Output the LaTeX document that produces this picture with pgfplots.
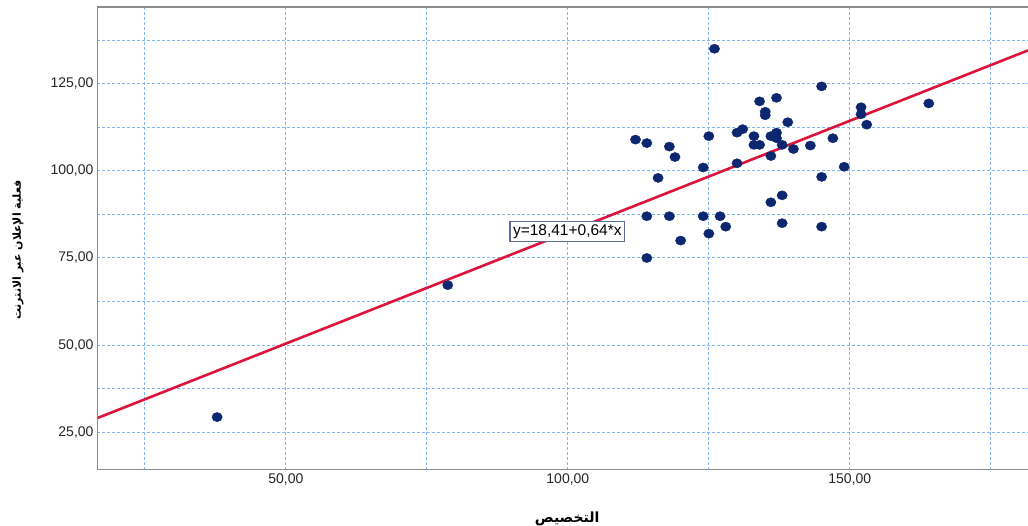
\documentclass[border=0pt]{standalone}
\usepackage{fontspec}
\setmainfont{Liberation Sans}
\newfontfamily\arabicfont[Script=Arabic]{DejaVu Sans}
\TeXXeTstate=1
\usepackage{pgfplots}
\pgfplotsset{compat=1.18}
\definecolor{gridblue}{RGB}{130,180,240}
\definecolor{dotblue}{RGB}{12,38,112}
\definecolor{fitred}{RGB}{220,20,60}
\definecolor{framegray}{RGB}{140,140,140}
\definecolor{boxblue}{RGB}{90,110,150}
\begin{document}
\begin{tikzpicture}[x=1pt,y=1pt]
\path[use as bounding box, fill=white] (0,0) rectangle (1028,526);
\begin{axis}[
  at={(97pt,56pt)}, anchor=south west,
  scale only axis, width=931pt, height=463pt,
  xmin=16.5, xmax=181.6, ymin=14.1, ymax=147.1,
  axis line style={draw=none},
  major tick length=0pt, minor tick length=0pt,
  xtick={50,100,150}, minor xtick={25,75,125,175},
  ytick={25,50,75,100,125}, minor ytick={37.5,62.5,87.5,112.5,137.5},
  grid=both,
  grid style={gridblue, dash pattern=on 3pt off 2pt, line width=1pt},
  major grid style={gridblue, dash pattern=on 3pt off 2pt, line width=1pt},
  minor grid style={gridblue, dash pattern=on 3pt off 2pt, line width=1pt},
  ticklabel style={font=\fontsize{14}{16}\selectfont, text=black!85},
  /pgf/number format/fixed,
  /pgf/number format/fixed zerofill,
  /pgf/number format/precision=2,
  /pgf/number format/use comma,
  /pgf/number format/assume math mode=true,
  xlabel={\arabicfont\bfseries\beginR التخصيص\endR},
  xlabel style={at={(axis description cs:0.505,-0.1058)}, anchor=center, font=\fontsize{14}{16}\selectfont},
  ylabel={\arabicfont\bfseries\beginR فعلية الإعلان عبر الانترنت\endR},
  ylabel style={at={(axis description cs:-0.0849,0.475)}, anchor=center, font=\fontsize{11}{13}\selectfont},
  clip=true,
]
\addplot[only marks, mark=*, mark size=4.6pt, color=dotblue, mark options={xscale=1.12}] table {
x y
37.8 29.3
78.7 67.2
126 135.1
112 109
114 108
118 107
119 104
116 98
124 101
125 110
130 111
131 112
133 110
133 107.5
134 107.5
134 120
135 117
135 116
137 121
139 114
136 110
137 111
137 109.4
138 107.5
136 104.3
140 106.3
143 107.3
147 109.4
145 124.3
152 118.3
152 116.3
153 113.3
130 102.2
149 101.2
145 98.3
138 93
136 91
114 87
118 87
124 87
127 87
128 84
125 82
120 80
138 85
145 84
114 75
164 119.4
};
\addplot[fitred, line width=2.6pt] coordinates {(16.5,28.97) (181.6,134.63)};
\draw[framegray, line width=1.5pt] (rel axis cs:1,0) -- (rel axis cs:0,0) -- (rel axis cs:0,1) -- (rel axis cs:1,1);
\node[draw=boxblue, fill=white, line width=1.2pt, inner sep=3pt, font=\fontsize{15.5}{17}\selectfont] at (axis cs:99.9,82.5) {y=18,41+0,64*x};
\end{axis}
\end{tikzpicture}
\end{document}
